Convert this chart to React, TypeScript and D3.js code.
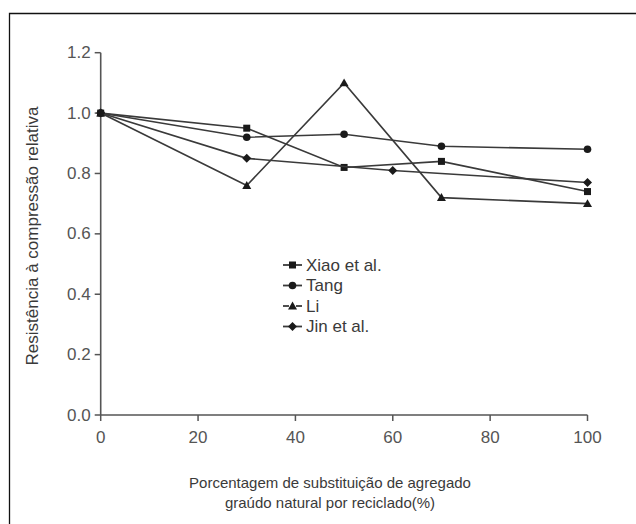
import React from "react";
import * as d3 from "d3";

const xTicks = [0, 20, 40, 60, 80, 100];
const yTicks = [0.0, 0.2, 0.4, 0.6, 0.8, 1.0, 1.2];

const seriesNames = ["Xiao et al.", "Tang", "Li", "Jin et al."];
const seriesMarkers = ["square", "circle", "triangle", "diamond"];

const xiaoX = [0, 30, 50, 70, 100];
const xiaoY = [1.0, 0.95, 0.82, 0.84, 0.74];
const tangX = [0, 30, 50, 70, 100];
const tangY = [1.0, 0.92, 0.93, 0.89, 0.88];
const liX = [0, 30, 50, 70, 100];
const liY = [1.0, 0.76, 1.1, 0.72, 0.7];
const jinX = [0, 30, 60, 100];
const jinY = [1.0, 0.85, 0.81, 0.77];

const seriesXs = [xiaoX, tangX, liX, jinX];
const seriesYs = [xiaoY, tangY, liY, jinY];

const W = 636;
const H = 524;
const left = 100.7;
const right = 587.5;
const top = 52.7;
const bottom = 415;

const FONT = "'Liberation Sans', Arial, sans-serif";
const INK = "#3a3a3a";

function Marker({ type, x, y }: { type: string; x: number; y: number }) {
  const fill = "#1a1a1a";
  if (type === "square") {
    return <rect x={x - 3.5} y={y - 3.5} width={7} height={7} fill={fill} />;
  }
  if (type === "circle") {
    return <circle cx={x} cy={y} r={3.8} fill={fill} />;
  }
  if (type === "triangle") {
    const s = 4.5;
    return (
      <path
        d={`M${x},${y - s} L${x + s},${y + s * 0.75} L${x - s},${y + s * 0.75} Z`}
        fill={fill}
      />
    );
  }
  const s = 4.5;
  return (
    <path
      d={`M${x},${y - s} L${x + s},${y} L${x},${y + s} L${x - s},${y} Z`}
      fill={fill}
    />
  );
}

export default function App() {
  const xScale = d3.scaleLinear().domain([0, 100]).range([left, right]);
  const yScale = d3.scaleLinear().domain([0, 1.2]).range([bottom, top]);
  const line = d3
    .line<[number, number]>()
    .x((d) => xScale(d[0]))
    .y((d) => yScale(d[1]));

  const legendX = 283;
  const legendY0 = 265;
  const legendDy = 20.5;

  return (
    <svg
      width={W}
      height={H}
      style={{ position: "absolute", left: 0, top: 0, background: "#fff" }}
      fontFamily={FONT}
    >
      <rect x={0} y={0} width={W} height={H} fill="#fff" />
      {/* frame */}
      <path d={`M9.5,${H + 5} L9.5,13.5 L${W + 5},13.5`} fill="none" stroke="#111" strokeWidth={1.3} />

      {/* axes */}
      <line x1={left} x2={left} y1={top} y2={bottom} stroke="#555" strokeWidth={1.6} />
      <line x1={left} x2={right} y1={bottom} y2={bottom} stroke="#555" strokeWidth={1.6} />
      {yTicks.map((t) => (
        <g key={"y" + t}>
          <line x1={left - 6} x2={left} y1={yScale(t)} y2={yScale(t)} stroke="#555" strokeWidth={1.5} />
          <text
            x={left - 10}
            y={yScale(t)}
            textAnchor="end"
            dominantBaseline="central"
            fontSize={17}
            fill="#555"
          >
            {t.toFixed(1)}
          </text>
        </g>
      ))}
      {xTicks.map((t) => (
        <g key={"x" + t}>
          <line x1={xScale(t)} x2={xScale(t)} y1={bottom} y2={bottom + 6} stroke="#555" strokeWidth={1.5} />
          <text x={xScale(t)} y={bottom + 28} textAnchor="middle" fontSize={17} fill="#555">
            {t}
          </text>
        </g>
      ))}

      {/* axis titles */}
      <text
        transform={`translate(38, 236) rotate(-90)`}
        textAnchor="middle"
        fontSize={17}
        fill={INK}
      >
        Resistência à compressão relativa
      </text>
      <text x={330} y={488} textAnchor="middle" fontSize={15} fill={INK}>
        Porcentagem de substituição de agregado
      </text>
      <text x={330} y={508} textAnchor="middle" fontSize={15} fill={INK}>
        graúdo natural por reciclado(%)
      </text>

      {/* series */}
      {seriesNames.map((name, i) => {
        const pts: [number, number][] = seriesXs[i].map((xv, j) => [xv, seriesYs[i][j]]);
        return (
          <g key={name}>
            <path d={line(pts) || ""} fill="none" stroke="#3a3a3a" strokeWidth={1.6} />
            {pts.map((p, j) => (
              <Marker key={j} type={seriesMarkers[i]} x={xScale(p[0])} y={yScale(p[1])} />
            ))}
          </g>
        );
      })}

      {/* legend */}
      {seriesNames.map((name, i) => {
        const y = legendY0 + i * legendDy;
        return (
          <g key={"lg" + name}>
            <line x1={legendX} x2={legendX + 6} y1={y} y2={y} stroke="#3a3a3a" strokeWidth={1.8} />
            <line x1={legendX + 13} x2={legendX + 19} y1={y} y2={y} stroke="#3a3a3a" strokeWidth={1.8} />
            <Marker type={seriesMarkers[i]} x={legendX + 9.5} y={y} />
            <text x={legendX + 23} y={y} dominantBaseline="central" fontSize={17} fill={INK}>
              {name}
            </text>
          </g>
        );
      })}
    </svg>
  );
}
